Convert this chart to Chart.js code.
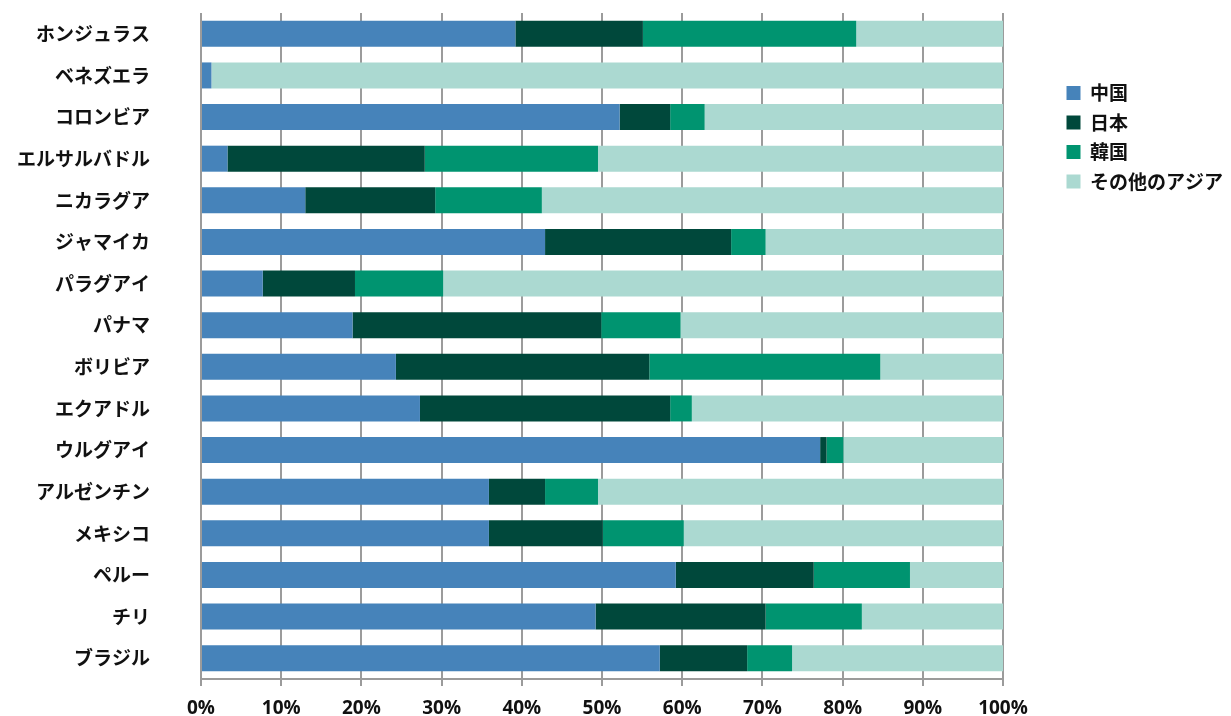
<!DOCTYPE html>
<html>
<head>
<meta charset="utf-8">
<script src="https://cdn.jsdelivr.net/npm/chart.js@4"></script>
<style>
  body { margin: 0; background: #fff; }
</style>
</head>
<body>
<canvas id="asiaChart" width="1231" height="716"></canvas>
<script>
// countries, top to bottom
const countries = ['ホンジュラス', 'ベネズエラ', 'コロンビア', 'エルサルバドル', 'ニカラグア', 'ジャマイカ', 'パラグアイ', 'パナマ',
  'ボリビア', 'エクアドル', 'ウルグアイ', 'アルゼンチン', 'メキシコ', 'ペルー', 'チリ', 'ブラジル'];

// shares in percent
const china  = [39.2, 1.3, 52.2, 3.3, 13.0, 42.9, 7.7, 18.9, 24.3, 27.3, 77.2, 35.9, 35.9, 59.2, 49.2, 57.2];
const japan  = [15.9, 0.0, 6.3, 24.6, 16.2, 23.2, 11.5, 31.0, 31.6, 31.2, 0.8, 7.0, 14.2, 17.2, 21.2, 10.9];
const korea  = [26.6, 0.0, 4.3, 21.6, 13.3, 4.3, 11.0, 9.9, 28.8, 2.7, 2.1, 6.6, 10.1, 12.0, 12.0, 5.6];
const others = [18.3, 98.7, 37.2, 50.5, 57.5, 29.6, 69.8, 40.2, 15.3, 38.8, 19.9, 50.5, 39.8, 11.6, 17.6, 26.3];

const seriesNames = ['中国', '日本', '韓国', 'その他のアジア'];
const xTicks = [0, 10, 20, 30, 40, 50, 60, 70, 80, 90, 100];

const colors = ['#4683BA', '#00483B', '#009470', '#ABD9D1'];
const jpFont = '"Noto Sans CJK JP", sans-serif';
const numFont = '"Open Sans", "Noto Sans CJK JP", sans-serif';

// legend sits to the right, leaves a gap after the plot
const legendSpot = {
  id: 'legendSpot',
  beforeInit(chart) {
    const fit = chart.legend.fit;
    chart.legend.fit = function () {
      fit.call(chart.legend);
      this.width = 228;
    };
  },
  afterLayout(chart) {
    chart.legend.left = 1056;
  }
};

const ctx = document.getElementById('asiaChart').getContext('2d');
new Chart(ctx, {
  type: 'bar',
  data: {
    labels: countries,
    datasets: [china, japan, korea, others].map((vals, i) => ({
      label: seriesNames[i],
      data: vals,
      backgroundColor: colors[i],
      borderWidth: 0,
      barPercentage: 0.625,
      categoryPercentage: 1
    }))
  },
  options: {
    indexAxis: 'y',
    responsive: false,
    animation: false,
    devicePixelRatio: 1,
    layout: { padding: { top: 13, right: 0, bottom: 0, left: 0 } },
    scales: {
      x: {
        stacked: true,
        min: 0,
        max: 100,
        afterBuildTicks(scale) {
          scale.ticks = xTicks.map(v => ({ value: v }));
        },
        afterFit(scale) { scale.height = 37; },
        grid: { color: '#9b9b9b', lineWidth: 2, tickLength: 7 },
        border: { display: true, color: '#9b9b9b', width: 2 },
        ticks: {
          padding: 11,
          color: '#111',
          font: { family: numFont, size: 19, weight: 'bold' },
          callback: v => v + '%'
        }
      },
      y: {
        stacked: true,
        afterFit(scale) { scale.width = 201; },
        // tick marks hidden, their length only sets the label gap
        grid: { display: false, drawTicks: true, tickLength: 51 },
        border: { display: false },
        ticks: {
          padding: 0,
          color: '#111',
          font: { family: jpFont, size: 19, weight: 'bold' }
        }
      }
    },
    plugins: {
      tooltip: { enabled: false },
      legend: {
        position: 'right',
        align: 'start',
        title: { display: true, text: ' ', font: { size: 10 }, padding: { top: 48, bottom: 0 } },
        labels: {
          boxWidth: 14,
          boxHeight: 14,
          padding: 10.5,
          color: '#111',
          font: { family: jpFont, size: 19, weight: 'bold', lineHeight: 1 }
        }
      }
    }
  },
  plugins: [legendSpot]
});
</script>
</body>
</html>
